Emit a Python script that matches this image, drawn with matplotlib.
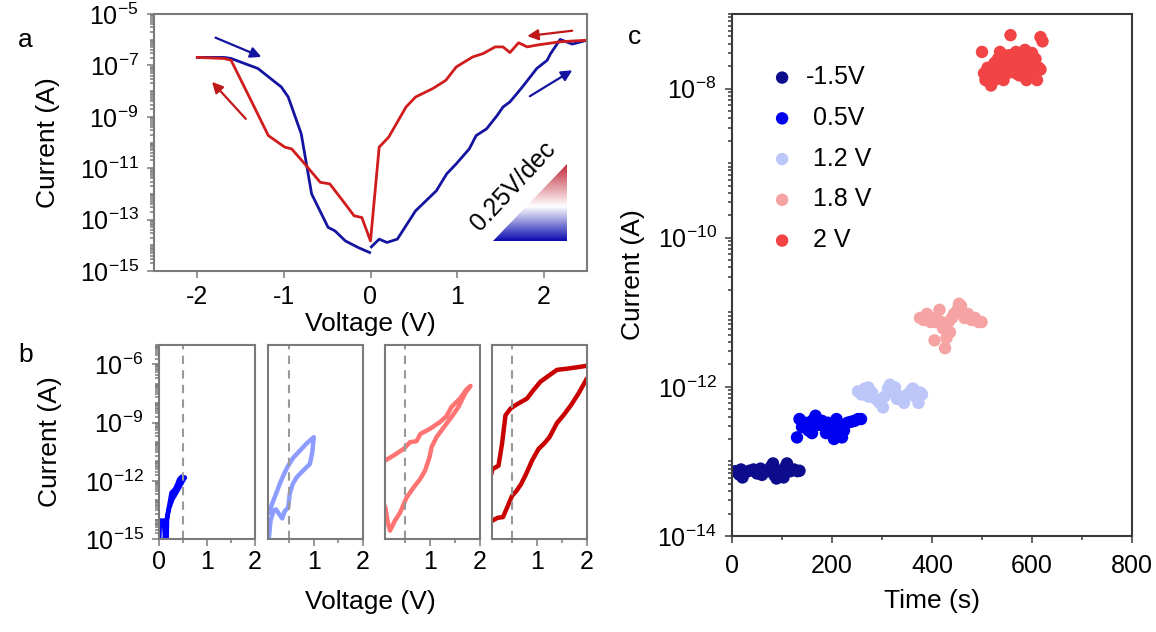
import numpy as np
import matplotlib
matplotlib.use("Agg")
import matplotlib.pyplot as plt
from matplotlib.ticker import FixedLocator, LogLocator, MultipleLocator, NullFormatter, NullLocator
from matplotlib.colors import LinearSegmentedColormap
from matplotlib.patches import Polygon

plt.rcParams['font.family'] = ['Liberation Sans', 'DejaVu Sans']
plt.rcParams['axes.unicode_minus'] = False
plt.rcParams['mathtext.default'] = 'regular'

# ---------------- data (currents stored as log10(I / A)) ----------------
# panel a: forward sweep (blue), -2 V -> 0 V, then 0 V -> 2.5 V
a_blue_neg_v = [-2.0, -1.69, -1.61, -1.30, -1.03, -0.95, -0.80, -0.72, -0.68,
                -0.49, -0.41, -0.29, -0.14, -0.01]
a_blue_neg_logI = [-6.69, -6.69, -6.73, -7.12, -7.84, -8.23, -9.66, -11.22, -12.0,
                   -13.30, -13.44, -13.83, -14.09, -14.28]
a_blue_pos_v = [0.01, 0.10, 0.19, 0.31, 0.52, 0.64, 0.76, 0.88, 0.99, 1.14, 1.22,
                1.34, 1.46, 1.53, 1.61, 1.69, 1.77, 1.92, 2.04, 2.08, 2.19, 2.33, 2.50]
a_blue_pos_logI = [-14.06, -13.76, -13.89, -13.76, -12.66, -12.27, -11.88, -11.22,
                   -10.83, -10.25, -9.73, -9.47, -8.96, -8.62, -8.42, -8.10, -7.77,
                   -7.12, -6.80, -6.54, -5.99, -6.17, -6.02]
# panel a: backward sweep (red), 2.5 V -> 0 V -> -2 V
a_red_v = [2.50, 2.19, 1.92, 1.81, 1.71, 1.61, 1.53, 1.44, 1.30, 1.18, 0.99, 0.87,
           0.72, 0.52, 0.41, 0.21, 0.10, 0.0, -0.10, -0.19, -0.29, -0.47, -0.58,
           -0.76, -0.91, -0.99, -1.18, -1.38, -1.61, -1.69, -2.0]
a_red_logI = [-6.02, -6.08, -6.21, -6.28, -6.12, -6.50, -6.28, -6.28, -6.54, -6.67,
              -7.06, -7.58, -7.90, -8.23, -8.62, -9.79, -10.18, -13.83, -12.92,
              -12.85, -12.40, -11.61, -11.55, -10.83, -10.25, -10.18, -9.73, -8.36,
              -6.80, -6.73, -6.69]

# panel b: four sweeps with increasing maximum voltage
b_v = [
    [0.007, 0.02, 0.10, 0.125, 0.146, 0.19, 0.23, 0.26, 0.33, 0.38, 0.42, 0.47, 0.54,
     0.49, 0.42, 0.35, 0.28, 0.215, 0.17, 0.16],
    [0.088, 0.12, 0.18, 0.23, 0.30, 0.36, 0.41, 0.48, 0.51, 0.57, 0.65, 0.78, 0.92,
     0.97, 1.0, 0.86, 0.72, 0.59, 0.48, 0.41, 0.32, 0.23, 0.15, 0.095],
    [0.10, 0.27, 0.47, 0.60, 0.73, 0.81, 1.0, 1.2, 1.33, 1.43, 1.6, 1.72, 1.81,
     1.70, 1.57, 1.43, 1.28, 1.13, 1.03, 0.99, 0.90, 0.80, 0.67, 0.53, 0.40, 0.30,
     0.20, 0.15, 0.11, 0.05],
    [0.05, 0.11, 0.23, 0.30, 0.37, 0.47, 0.57, 0.80, 0.93, 1.07, 1.23, 1.40, 1.57,
     1.77, 2.0],
]
b_logI = [
    [-14.95, -14.05, -14.05, -14.95, -14.25, -13.56, -13.04, -12.61, -12.44, -12.18,
     -11.92, -11.79, -11.83, -12.04, -12.35, -12.66, -12.95, -13.39, -13.91, -15.0],
    [-14.95, -14.08, -13.56, -13.47, -13.73, -13.94, -13.56, -13.39, -12.69, -12.18,
     -11.83, -11.48, -11.14, -10.53, -9.75, -10.06, -10.44, -10.79, -11.22, -11.57,
     -12.09, -12.69, -13.21, -13.65],
    [-10.96, -10.70, -10.36, -10.01, -9.96, -9.58, -9.32, -8.97, -8.67, -8.19, -7.76,
     -7.32, -7.11, -7.50, -8.19, -8.71, -9.23, -9.75, -10.27, -10.79, -11.48, -11.92,
     -12.35, -12.87, -13.65, -14.05, -14.57, -14.08, -13.42, -13.0],
    [-12.0, -11.40, -11.22, -10.10, -8.62, -8.28, -8.10, -7.76, -7.32, -6.89, -6.59,
     -6.28, -6.23, -6.16, -6.07],
]
b4_low_v = [0.05, 0.11, 0.21, 0.32, 0.40, 0.50, 0.59, 0.68, 0.78, 0.90, 1.03, 1.15,
            1.25, 1.40, 1.53, 1.68, 1.83, 2.0]
b4_low_logI = [-14.1, -14.05, -13.91, -13.87, -13.39, -12.78, -12.52, -12.18, -11.66,
               -10.96, -10.36, -10.06, -9.75, -9.02, -8.62, -8.10, -7.50, -6.72]
b_read_v = 0.5

# panel c: current vs time at fixed bias
c_labels = ['-1.5V', ' 0.5V', ' 1.2 V', ' 1.8 V', ' 2 V']
c_t = [
    [7, 14, 18, 21, 28, 35, 43, 50, 57, 60, 64, 71, 78, 82, 85, 89, 92, 99, 103, 106,
     110, 117, 124, 131, 135],
    [130, 135, 140, 146, 153, 160, 160, 167, 174, 180, 185, 192, 188, 199, 204, 209,
     209, 215, 220, 224, 231, 238, 245, 252, 258],
    [252, 259, 266, 273, 273, 280, 287, 295, 302, 305, 312, 316, 323, 326, 330, 337,
     344, 351, 358, 362, 366, 373, 376, 380],
    [376, 383, 390, 397, 405, 405, 408, 415, 419, 422, 426, 429, 433, 436, 440, 444,
     451, 454, 458, 465, 472, 479, 486, 493, 499],
    [500, 504, 507, 511, 515, 518, 522, 525, 529, 532, 536, 539, 543, 546, 550, 554,
     557, 557, 561, 564, 568, 571, 575, 578, 582, 586, 589, 593, 596, 600, 603, 607,
     610, 614, 617, 621, 525, 568, 586, 617, 515, 543],
]
c_I = [
    [7.4e-14, 6.7e-14, 7.8e-14, 6.1e-14, 7.2e-14, 7.5e-14, 7.8e-14, 6.9e-14, 8.0e-14,
     6.6e-14, 7.5e-14, 7.4e-14, 8.5e-14, 9.4e-14, 6.5e-14, 5.9e-14, 7.5e-14, 6.9e-14,
     6.1e-14, 8.3e-14, 9.4e-14, 7.4e-14, 7.8e-14, 7.4e-14, 7.5e-14],
    [2.1e-13, 3.7e-13, 2.9e-13, 3.3e-13, 2.6e-13, 3.5e-13, 2.4e-13, 4.1e-13, 3.1e-13,
     3.5e-13, 2.9e-13, 3.3e-13, 2.4e-13, 2.7e-13, 2.0e-13, 3.7e-13, 2.4e-13, 2.9e-13,
     2.1e-13, 2.6e-13, 3.3e-13, 3.4e-13, 3.5e-13, 3.7e-13, 3.7e-13],
    [8.7e-13, 7.9e-13, 9.5e-13, 7.4e-13, 9.8e-13, 8.4e-13, 6.9e-13, 6.1e-13, 5.3e-13,
     7.4e-13, 9.5e-13, 1.07e-12, 8.4e-13, 9.8e-13, 6.9e-13, 7.4e-13, 6.1e-13, 7.9e-13,
     8.9e-13, 9.5e-13, 7.4e-13, 6.1e-13, 8.4e-13, 7.9e-13],
    [8.4e-12, 7.9e-12, 9.5e-12, 7.4e-12, 4.2e-12, 7.4e-12, 8.4e-12, 1.08e-11, 7.4e-12,
     6.1e-12, 3.3e-12, 4.5e-12, 7.4e-12, 5.4e-12, 8.4e-12, 9.5e-12, 1.08e-11, 1.3e-11,
     1.22e-11, 8.4e-12, 9.5e-12, 7.9e-12, 8.4e-12, 7.4e-12, 7.4e-12],
    [3.1e-8, 1.6e-8, 1.3e-8, 1.9e-8, 1.4e-8, 1.1e-8, 1.7e-8, 2.2e-8, 1.5e-8, 2.5e-8,
     3.1e-8, 1.8e-8, 1.3e-8, 2.2e-8, 1.6e-8, 2.8e-8, 5.2e-8, 1.9e-8, 1.7e-8, 2.5e-8,
     3.1e-8, 2.0e-8, 1.5e-8, 2.8e-8, 1.8e-8, 3.3e-8, 1.3e-8, 2.2e-8, 1.7e-8, 3.0e-8,
     1.9e-8, 2.5e-8, 1.3e-8, 1.9e-8, 4.9e-8, 4.3e-8, 1.3e-8, 1.6e-8, 2.3e-8, 1.8e-8,
     1.8e-8, 2.8e-8],
]

# ---------------- styles ----------------
BLUE_A = '#1414a0'
RED_A = '#d01c1c'
B_COLORS = ['#0000ff', '#8c9cff', '#ff7373', '#c80000']
C_COLORS = ['#0c0c8c', '#0000f0', '#bcc6f8', '#f6a3a3', '#f24444']
SPINE_GRAY = '#7a7a7a'
TICK_FS = 18
LABEL_FS = 19
W, H = 1156, 632


def style_axis(ax, spine_color, xpad, ypad):
    for s in ax.spines.values():
        s.set_color(spine_color)
        s.set_linewidth(1.5)
    ax.tick_params(which='both', direction='out', color=spine_color, width=1.1,
                   labelsize=TICK_FS, top=False, right=False)
    ax.tick_params(which='major', length=5)
    ax.tick_params(which='minor', length=3)
    ax.tick_params(axis='x', which='major', pad=xpad)
    ax.tick_params(axis='y', which='major', pad=ypad)


def log_minor(axis):
    axis.set_minor_locator(LogLocator(base=10, subs=np.arange(1, 10), numticks=40))
    axis.set_minor_formatter(NullFormatter())


fig = plt.figure(figsize=(W / 100, H / 100), dpi=100)

# ---------------- panel a ----------------
ax_a = fig.add_axes([154 / W, 1 - 271 / H, 433 / W, 257 / H])
ax_a.plot(a_blue_neg_v, np.power(10.0, a_blue_neg_logI), color=BLUE_A, lw=2)
ax_a.plot(a_blue_pos_v, np.power(10.0, a_blue_pos_logI), color=BLUE_A, lw=2)
ax_a.plot(a_red_v, np.power(10.0, a_red_logI), color=RED_A, lw=2)
ax_a.set_yscale('log')
ax_a.set_xlim(-2.5, 2.5)
ax_a.set_ylim(1e-15, 1e-5)
ax_a.yaxis.set_major_locator(FixedLocator([10.0 ** e for e in range(-15, -4, 2)]))
log_minor(ax_a.yaxis)
ax_a.set_xticks([-2, -1, 0, 1, 2])
style_axis(ax_a, SPINE_GRAY, xpad=5, ypad=6)
ax_a.set_xlabel('Voltage (V)', fontsize=LABEL_FS, labelpad=2)
ax_a.set_ylabel('Current (A)', fontsize=LABEL_FS)
ax_a.yaxis.set_label_coords((60 - 154) / 433, 0.5)

# sweep direction arrows
arrows = [((-1.79, 10 ** -5.92), (-1.26, 10 ** -6.67), BLUE_A),
          ((1.84, 10 ** -8.20), (2.33, 10 ** -7.19), BLUE_A),
          ((2.33, 10 ** -5.65), (1.81, 10 ** -5.86), '#c01818'),
          ((-1.44, 10 ** -9.08), (-1.83, 10 ** -7.64), '#c01818')]
for start, end, col in arrows:
    ax_a.annotate('', xy=end, xytext=start,
                  arrowprops=dict(arrowstyle='-|>', color=col, lw=1.6,
                                  mutation_scale=16, shrinkA=0, shrinkB=0))

# 0.25 V/dec gradient triangle
tri_v = [1.41, 2.27]
tri_log = [-13.85, -10.83]
cmap = LinearSegmentedColormap.from_list(
    'bwr_tri', [(0.0, '#0808b0'), (0.45, '#ffffff'), (1.0, '#c02838')])
gy = np.linspace(tri_log[0], tri_log[1], 120)
Z = np.linspace(0, 1, 119)[:, None]
mesh = ax_a.pcolormesh(np.array(tri_v), 10 ** gy, Z, cmap=cmap, shading='flat', zorder=1)
tri = Polygon([(tri_v[0], 10 ** tri_log[0]), (tri_v[1], 10 ** tri_log[0]),
               (tri_v[1], 10 ** tri_log[1])], closed=True, transform=ax_a.transData,
              facecolor='none', edgecolor='none')
ax_a.add_patch(tri)
mesh.set_clip_path(tri)
ax_a.text(1.65, 10 ** -11.7, '0.25V/dec', rotation=47, fontsize=18,
          ha='center', va='center', rotation_mode='anchor')

# ---------------- panel b ----------------
b_lefts = [159, 268, 385, 492]
b_widths = [96, 95, 95, 95]
b_xmin = [0.0, 0.07, 0.1, 0.1]
for i in range(4):
    ax = fig.add_axes([b_lefts[i] / W, 1 - 539 / H, b_widths[i] / W, 194 / H])
    ax.plot(b_v[i], np.power(10.0, b_logI[i]), color=B_COLORS[i], lw=3.2,
            solid_joinstyle='round', solid_capstyle='round')
    if i == 3:
        ax.plot(b4_low_v, np.power(10.0, b4_low_logI), color=B_COLORS[i], lw=3.2,
                solid_joinstyle='round', solid_capstyle='round')
    ax.axvline(b_read_v, color='#999999', lw=1.5, ls=(0, (4, 3)))
    ax.set_yscale('log')
    ax.set_xlim(b_xmin[i], 2)
    ax.set_ylim(1e-15, 1e-5)
    ax.xaxis.set_major_locator(FixedLocator([0, 1, 2]))
    ax.xaxis.set_minor_locator(MultipleLocator(0.5))
    style_axis(ax, SPINE_GRAY, xpad=3, ypad=6)
    if i == 0:
        ax.yaxis.set_major_locator(FixedLocator([1e-15, 1e-12, 1e-9, 1e-6]))
        log_minor(ax.yaxis)
        ax.set_ylabel('Current (A)', fontsize=LABEL_FS)
        ax.yaxis.set_label_coords((62 - 159) / 96, 0.5)
    else:
        ax.yaxis.set_major_locator(NullLocator())
        ax.yaxis.set_minor_locator(NullLocator())
fig.text(370 / W, 1 - 602 / H, 'Voltage (V)', fontsize=LABEL_FS, ha='center', va='center')

# ---------------- panel c ----------------
ax_c = fig.add_axes([732 / W, 1 - 536 / H, 400 / W, 522 / H])
for t, cur, col, lab in zip(c_t, c_I, C_COLORS, c_labels):
    ax_c.scatter(t, cur, s=80, color=col, edgecolors='none', label=lab)
ax_c.set_yscale('log')
ax_c.set_xlim(0, 800)
ax_c.set_ylim(1e-14, 1e-7)
ax_c.xaxis.set_major_locator(MultipleLocator(200))
ax_c.xaxis.set_minor_locator(MultipleLocator(100))
ax_c.yaxis.set_major_locator(FixedLocator([1e-14, 1e-12, 1e-10, 1e-8]))
log_minor(ax_c.yaxis)
style_axis(ax_c, '#3a3a3a', xpad=8, ypad=6)
ax_c.set_xlabel('Time (s)', fontsize=LABEL_FS, labelpad=8)
ax_c.set_ylabel('Current (A)', fontsize=LABEL_FS)
ax_c.yaxis.set_label_coords((645 - 732) / 400, 0.5)
ax_c.legend(loc='upper left', bbox_to_anchor=(0.094, 0.902), frameon=False,
            fontsize=TICK_FS, handlelength=1.0, handletextpad=0.45, labelspacing=0.67,
            borderpad=0, borderaxespad=0, scatterpoints=1)

# panel letters
fig.text(18 / W, 1 - 40 / H, 'a', fontsize=LABEL_FS, ha='left', va='center')
fig.text(18 / W, 1 - 355 / H, 'b', fontsize=LABEL_FS, ha='left', va='center')
fig.text(628 / W, 1 - 37 / H, 'c', fontsize=LABEL_FS, ha='left', va='center')

fig.savefig('out.png', dpi=100)
